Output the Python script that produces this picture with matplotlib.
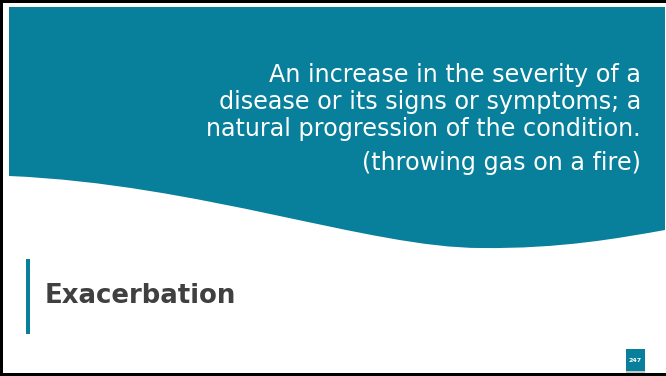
import matplotlib.pyplot as plt
from matplotlib.path import Path
from matplotlib.patches import PathPatch, Rectangle

# slide content
body_lines = ["An increase in the severity of a",
              "disease or its signs or symptoms; a",
              "natural progression of the condition."]
aside = "(throwing gas on a fire)"
title = "Exacerbation"
page_no = "247"

teal = '#087f9b'
grey = '#404040'

# wave outline of the teal header (pixel coords, y down)
wave_verts = [(9, 7), (665, 7), (665, 230),
              (620, 238), (560, 249), (481, 248),
              (370, 248), (200, 184), (9, 176),
              (9, 7)]
wave_codes = [Path.MOVETO, Path.LINETO, Path.LINETO,
              Path.CURVE4, Path.CURVE4, Path.CURVE4,
              Path.CURVE4, Path.CURVE4, Path.CURVE4,
              Path.CLOSEPOLY]


def main():
    fig = plt.figure(figsize=(6.66, 3.76), dpi=100)
    ax = fig.add_axes([0, 0, 1, 1])
    ax.set_xlim(0, 666)
    ax.set_ylim(376, 0)
    ax.axis('off')

    # frame: top, left, bottom
    ax.add_patch(Rectangle((0, 0), 666, 2.5, facecolor='k', edgecolor='none'))
    ax.add_patch(Rectangle((0, 0), 3, 376, facecolor='k', edgecolor='none'))
    ax.add_patch(Rectangle((0, 372.5), 666, 3.5, facecolor='k', edgecolor='none'))

    ax.add_patch(PathPatch(Path(wave_verts, wave_codes), facecolor=teal, edgecolor='none'))

    for i, line in enumerate(body_lines):
        ax.text(641, 82 + i * 27, line, ha='right', va='baseline', color='white',
                fontsize=17.2, family='DejaVu Sans')
    ax.text(641, 170, aside, ha='right', va='baseline', color='white',
            fontsize=17.2, family='DejaVu Sans')

    # title with accent bar
    ax.add_patch(Rectangle((26, 259), 4, 75, facecolor=teal, edgecolor='none'))
    ax.text(45, 303, title, ha='left', va='baseline', color=grey,
            fontsize=18.7, family='DejaVu Sans', fontweight='bold')

    # page number
    ax.add_patch(Rectangle((626, 371), 19, 2, facecolor='#c8c8c8', edgecolor='none'))
    ax.add_patch(Rectangle((626, 349), 19, 22, facecolor=teal, edgecolor='none'))
    ax.text(635.5, 360, page_no, ha='center', va='center', color='white',
            fontsize=4.5, fontweight='bold')

    fig.savefig("out.png", dpi=100)


if __name__ == "__main__":
    main()
